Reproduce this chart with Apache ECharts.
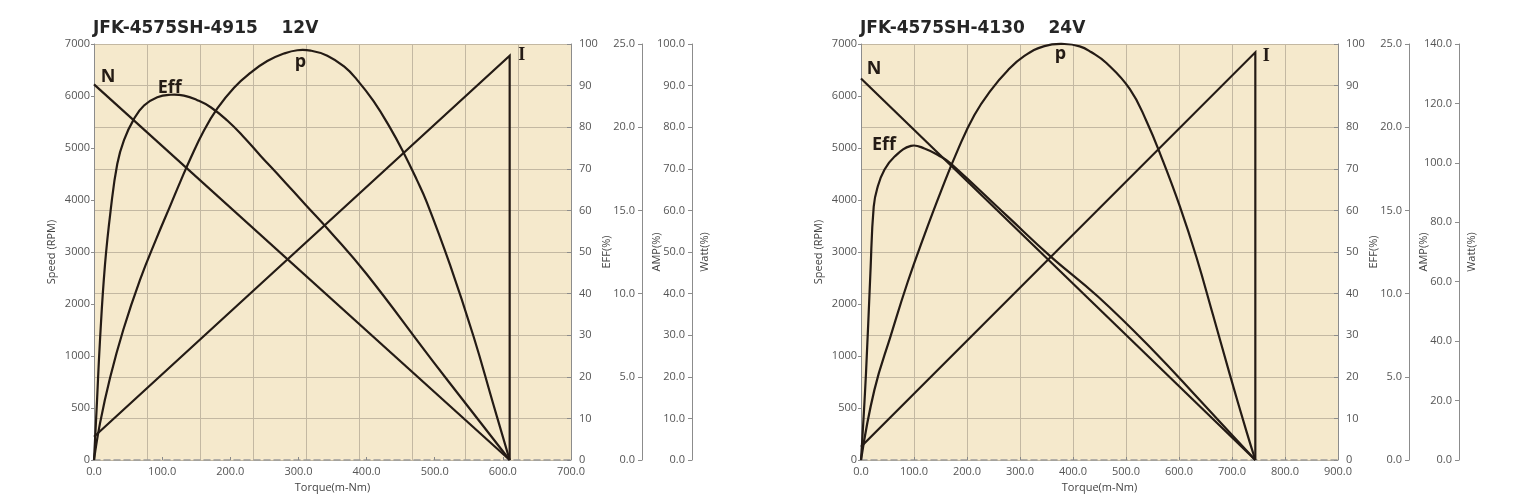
<!DOCTYPE html>
<html lang="en">
<head>
<meta charset="utf-8">
<title>JFK-4575SH motor curves</title>
<style>
html, body { margin: 0; padding: 0; background: #fff; }
#chart { width: 1533px; height: 501px; }
</style>
</head>
<body>
<div id="chart"></div>
<script src="https://cdn.jsdelivr.net/npm/echarts@6/dist/echarts.min.js"></script>
<script>
// speed axis labels - evenly spaced on the sheet even though the steps differ
var speedLabels = ['0', '500', '1000', '2000', '3000', '4000', '5000', '6000', '7000'];

// ---- left: JFK-4575SH-4915 12V ----
var leftTitle = 'JFK-4575SH-4915    12V';
var leftTorqueMax = 700;
var leftWattMax = 100;
var leftWattStep = 10;
// [torque, rpm]
var leftN = [[0, 6320], [610, 0]];
// [torque, eff %]
var leftEff = [[0, 0], [4, 12.8], [8.8, 28.8], [16.1, 46.9], [24.5, 60.1], [34.2, 71.2], [44, 76.9], [58.7, 82],
    [73.4, 85.2], [92.9, 87.2], [112.6, 87.8], [132, 87.6], [151.6, 86.5], [171.3, 84.8], [195.6, 81.6],
    [220, 77.6], [244.6, 73.1], [269, 68.8], [293.5, 64.4], [310.7, 61.3], [346, 55], [400, 44.7],
    [498, 23.6], [610, 0]];
// [torque, watt]
var leftP = [[0, 0], [8.8, 8.8], [23.5, 19.7], [43, 31.3], [67.5, 43.3], [92, 53.4], [112.6, 61.4],
    [127.2, 67.1], [141.9, 72.6], [161.4, 79.2], [181, 84.5], [205.5, 89.5], [230, 93.1], [254.3, 95.9],
    [278.8, 97.7], [298.4, 98.5], [318, 98.4], [342.4, 97.2], [366.9, 94.6], [385.5, 91.5], [410, 86.3],
    [434.4, 79.9], [454, 74], [473.6, 67.4], [488.3, 62], [522.5, 46.9], [556.8, 29.8], [586, 13.4],
    [610, 0]];
// [torque, amp]
var leftI = [[0, 1.4], [610, 24.3], [610, 0]];

// ---- right: JFK-4575SH-4130 24V ----
var rightTitle = 'JFK-4575SH-4130    24V';
var rightTorqueMax = 900;
var rightWattMax = 140;
var rightWattStep = 20;
var rightN = [[0, 6420], [744, 0]];
var rightEff = [[0, 0], [9.4, 20.8], [17.7, 44.9], [24, 60.9], [31.5, 65.7], [44, 69.7], [63, 72.9],
    [94.3, 75.5], [119.6, 74.9], [151, 72.9], [170, 71.2], [277, 58.5], [358, 48.9], [447, 39.3],
    [550, 26.5], [639, 14.4], [700, 6], [744, 0]];
var rightP = [[0, 0], [25.3, 23.6], [56.6, 42.1], [88.1, 59.9], [119.6, 75.7], [151, 90.5], [182.5, 104.3],
    [214, 116.1], [245.3, 124.5], [276.8, 131.1], [308.3, 136], [346, 139.3], [383.8, 140], [412.6, 139.2],
    [434, 137.3], [463, 133.6], [507, 124.9], [538.5, 114.1], [569.8, 100.6], [601.3, 85.5], [632.8, 68.3],
    [664.2, 48.8], [695.7, 28.9], [727, 9.8], [744, 0]];
var rightI = [[0, 0.8], [744, 24.5], [744, 0]];

var font = 'Open Sans';
var gridColor = '#c3b8a2';
var axisColor = '#8c8c8c';
var labelColor = '#555';
var curveColor = '#241b15';

var grids = [], titles = [], xAxes = [], yAxes = [], series = [];

// one custom series per curve: a smoothed polyline through the data, plus its letter tag
function curve(name, data, xi, yi, smooth, tag) {
    return {
        name: name, type: 'custom', data: data, xAxisIndex: xi, yAxisIndex: yi,
        clip: false, silent: true,
        renderItem: function (params, api) {
            if (params.dataIndex !== 0) return null;
            var pts = data.map(function (d) { return api.coord(d); });
            var anchor = pts[tag.at];
            return {
                type: 'group',
                children: [{
                    type: 'polyline',
                    shape: { points: pts, smooth: smooth },
                    style: { stroke: curveColor, lineWidth: 2.2, fill: null }
                }, {
                    type: 'text',
                    x: anchor[0] + tag.off[0], y: anchor[1] + tag.off[1],
                    style: {
                        text: name, fill: curveColor, align: 'center', verticalAlign: 'middle',
                        fontSize: 18, fontWeight: 'bold',
                        fontFamily: tag.serif ? 'Liberation Serif' : font
                    }
                }]
            };
        }
    };
}

function addChart(c) {
    var g = grids.length;
    grids.push({ left: c.left, top: 44, width: 477, height: 416, show: true,
        backgroundColor: '#f5e9cc', borderWidth: 0 });
    titles.push({ text: c.title, left: c.left - 1, top: 20, padding: 0,
        textStyle: { fontFamily: 'DejaVu Sans', fontSize: 17, fontWeight: 'bold', color: '#262626' } });

    var xi = xAxes.length;
    xAxes.push({
        gridIndex: g, type: 'value', position: 'bottom', min: 0, max: c.torqueMax, interval: 100,
        axisLine: { lineStyle: { color: '#9a9a9a', width: 1.5, type: [6, 4] } },
        axisTick: { inside: true, length: 3, lineStyle: { color: '#888' } },
        axisLabel: { color: labelColor, fontSize: 11, fontFamily: font, margin: 6,
            formatter: function (v) { return v.toFixed(1); } },
        splitLine: { show: false },
        name: 'Torque(m-Nm)', nameLocation: 'middle', nameGap: 21,
        nameTextStyle: { color: '#444', fontSize: 11, fontFamily: font }
    });
    // plain grid columns (9 of them on the sheet)
    xAxes.push({
        gridIndex: g, type: 'value', position: 'top', min: 0, max: 9, interval: 1,
        axisLine: { show: false }, axisTick: { show: false }, axisLabel: { show: false },
        splitLine: { show: true, lineStyle: { color: gridColor, width: 1 } }
    });

    var yi = yAxes.length;
    yAxes.push({
        gridIndex: g, type: 'category', position: 'left', data: speedLabels, boundaryGap: false,
        axisLine: { show: true, lineStyle: { color: axisColor } },
        axisTick: { show: true, length: 3, lineStyle: { color: axisColor } },
        axisLabel: { color: labelColor, fontSize: 11, fontFamily: font, margin: 4 },
        splitLine: { show: false },
        name: 'Speed (RPM)', nameLocation: 'middle', nameRotate: 90, nameGap: 37,
        nameTextStyle: { color: '#444', fontSize: 11, fontFamily: font }
    });
    yAxes.push({ gridIndex: g, type: 'value', position: 'left', min: 0, max: 7000, show: false });
    yAxes.push({
        gridIndex: g, type: 'value', position: 'right', offset: 0, min: 0, max: 100, interval: 10,
        axisLine: { show: true, lineStyle: { color: axisColor } },
        axisTick: { show: true, inside: true, length: 4, lineStyle: { color: axisColor } },
        axisLabel: { color: labelColor, fontSize: 11, fontFamily: font, margin: 8 },
        splitLine: { show: true, lineStyle: { color: gridColor, width: 1 } },
        name: 'EFF(%)', nameLocation: 'middle', nameRotate: 90, nameGap: 24,
        nameTextStyle: { color: '#444', fontSize: 11, fontFamily: font }
    });
    yAxes.push({
        gridIndex: g, type: 'value', position: 'right', offset: 71, min: 0, max: 25, interval: 5,
        axisLine: { show: true, lineStyle: { color: axisColor } },
        axisTick: { show: true, inside: true, length: 4, lineStyle: { color: axisColor } },
        axisLabel: { inside: true, color: labelColor, fontSize: 11, fontFamily: font, margin: 7,
            formatter: function (v) { return v.toFixed(1); } },
        splitLine: { show: false },
        name: 'AMP(%)', nameLocation: 'middle', nameRotate: 90, nameGap: 9,
        nameTextStyle: { color: '#444', fontSize: 11, fontFamily: font }
    });
    yAxes.push({
        gridIndex: g, type: 'value', position: 'right', offset: 121, min: 0, max: c.wattMax,
        interval: c.wattStep,
        axisLine: { show: true, lineStyle: { color: axisColor } },
        axisTick: { show: true, inside: true, length: 4, lineStyle: { color: axisColor } },
        axisLabel: { inside: true, color: labelColor, fontSize: 11, fontFamily: font, margin: 7,
            formatter: function (v) { return v.toFixed(1); } },
        splitLine: { show: false },
        name: 'Watt(%)', nameLocation: 'middle', nameRotate: 90, nameGap: 7,
        nameTextStyle: { color: '#444', fontSize: 11, fontFamily: font }
    });

    series.push(curve('N', c.n, xi, yi + 1, 0, c.nTag));
    series.push(curve('Eff', c.eff, xi, yi + 2, 0.45, c.effTag));
    series.push(curve('p', c.p, xi, yi + 4, 0.45, c.pTag));
    series.push(curve('I', c.i, xi, yi + 3, 0, c.iTag));
}

addChart({ left: 94, title: leftTitle, torqueMax: leftTorqueMax, wattMax: leftWattMax, wattStep: leftWattStep,
    n: leftN, eff: leftEff, p: leftP, i: leftI,
    nTag: { at: 0, off: [14, -8] }, effTag: { at: 10, off: [-1, -7] },
    pTag: { at: 15, off: [3, 12] }, iTag: { at: 1, off: [12, 0], serif: true } });
addChart({ left: 861, title: rightTitle, torqueMax: rightTorqueMax, wattMax: rightWattMax, wattStep: rightWattStep,
    n: rightN, eff: rightEff, p: rightP, i: rightI,
    nTag: { at: 0, off: [13, -10] }, effTag: { at: 7, off: [-27, -1] },
    pTag: { at: 12, off: [-4, 10] }, iTag: { at: 1, off: [11, 4], serif: true } });

var chart = echarts.init(document.getElementById('chart'));
chart.setOption({
    animation: false,
    backgroundColor: '#fff',
    title: titles,
    grid: grids,
    xAxis: xAxes,
    yAxis: yAxes,
    series: series
});
</script>
</body>
</html>
